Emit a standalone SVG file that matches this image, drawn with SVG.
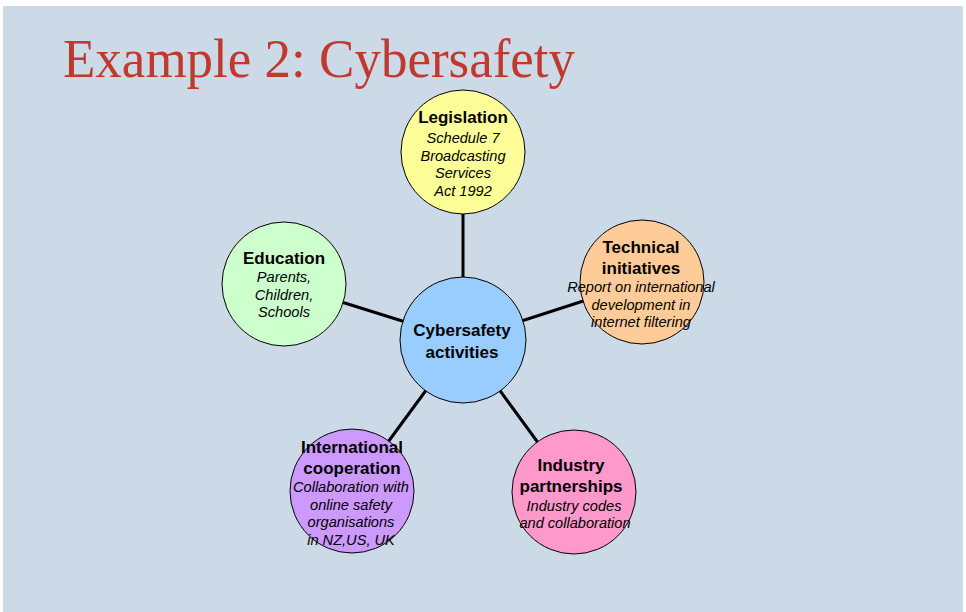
<svg xmlns="http://www.w3.org/2000/svg" width="966" height="612" viewBox="0 0 966 612">
  <style>
    .title { font-family: "Liberation Serif", "Times New Roman", serif; font-size: 53px; fill: #C0392F; }
    .node circle { stroke: #000; stroke-width: 1; }
    .head { font-family: "Liberation Sans", Arial, sans-serif; font-size: 17px; font-weight: bold; fill: #000; text-anchor: middle; }
    .sub { font-family: "Liberation Sans", Arial, sans-serif; font-size: 14.6px; font-style: italic; fill: #000; text-anchor: middle; }
    .links line { stroke: #000; stroke-width: 3; }
  </style>

  <rect x="0" y="0" width="966" height="612" fill="#ffffff"/>
  <rect x="3" y="6" width="960" height="606" fill="#CCD9E6"/>

  <text class="title" x="63" y="77" transform="translate(0 77) scale(1 1.04) translate(0 -77)">Example 2: Cybersafety</text>

  <!-- spokes from hub to each activity -->
  <g id="connectors" class="links">
    <line x1="463" y1="340" x2="463" y2="152"/>
    <line x1="463" y1="340" x2="642" y2="282"/>
    <line x1="463" y1="340" x2="284" y2="284"/>
    <line x1="463" y1="340" x2="352" y2="491"/>
    <line x1="463" y1="340" x2="574" y2="492"/>
  </g>

  <g id="hub" class="node">
    <circle cx="463" cy="340" r="63" fill="#99CCFF"/>
    <text class="head" x="462" y="335.5">Cybersafety</text>
    <text class="head" x="462" y="358">activities</text>
  </g>

  <g id="legislation" class="node">
    <circle cx="463" cy="152" r="62" fill="#FFFF99"/>
    <text class="head" x="463" y="123">Legislation</text>
    <text class="sub" x="463" y="143">Schedule 7</text>
    <text class="sub" x="463" y="160.5">Broadcasting</text>
    <text class="sub" x="463" y="178">Services</text>
    <text class="sub" x="463" y="195.5">Act 1992</text>
  </g>

  <g id="technical" class="node">
    <circle cx="642" cy="282" r="62" fill="#FFCC99"/>
    <text class="head" x="641" y="252.5">Technical</text>
    <text class="head" x="641" y="274">initiatives</text>
    <text class="sub" x="641" y="292">Report on international</text>
    <text class="sub" x="641" y="309.5">development in</text>
    <text class="sub" x="641" y="327">internet filtering</text>
  </g>

  <g id="education" class="node">
    <circle cx="284" cy="284" r="62" fill="#CCFFCC"/>
    <text class="head" x="284" y="263.5">Education</text>
    <text class="sub" x="284" y="282">Parents,</text>
    <text class="sub" x="284" y="299.5">Children,</text>
    <text class="sub" x="284" y="317">Schools</text>
  </g>

  <g id="international" class="node">
    <circle cx="352" cy="491" r="62" fill="#CC99FF"/>
    <text class="head" x="352" y="452.5">International</text>
    <text class="head" x="352" y="473.5">cooperation</text>
    <text class="sub" x="351" y="492">Collaboration with</text>
    <text class="sub" x="351" y="509.5">online safety</text>
    <text class="sub" x="351" y="527">organisations</text>
    <text class="sub" x="351" y="544.5">in NZ,US, UK</text>
  </g>

  <g id="industry" class="node">
    <circle cx="574" cy="492" r="62" fill="#FF99CC"/>
    <text class="head" x="571" y="471">Industry</text>
    <text class="head" x="571" y="492">partnerships</text>
    <text class="sub" x="574" y="510.5">Industry codes</text>
    <text class="sub" x="575" y="528">and collaboration</text>
  </g>
</svg>
